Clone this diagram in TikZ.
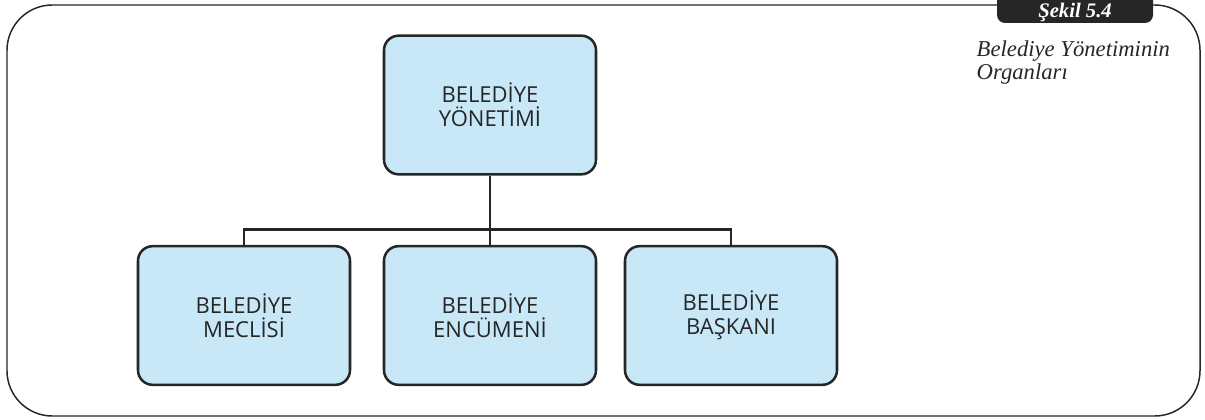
\documentclass[tikz,border=0pt]{standalone}
\usepackage{fontspec}
\setmainfont{Liberation Serif}
\setsansfont{Open Sans}
\definecolor{kutu_mavi}{HTML}{C8E8F8}
\definecolor{koyu}{HTML}{262626}
\begin{document}
\begin{tikzpicture}[
    x=0.75pt, y=-0.75pt,
    box_style/.style={draw=koyu, fill=kutu_mavi, line width=1.9pt, rounded corners=11pt,
        minimum width=159pt, minimum height=104pt, align=center, text=koyu,
        font=\sffamily\fontsize{16.5}{18}\selectfont},
    edge_style/.style={draw=koyu, line width=1.9pt},
    frame_style/.style={draw=koyu, line width=1.1pt, rounded corners=34pt},
    tab_style/.style={fill=koyu, rounded corners=6pt, minimum width=117pt, minimum height=24pt},
    tab_text/.style={text=white, inner sep=0pt, font=\bfseries\itshape\fontsize{15.5}{16}\selectfont}
]
\useasboundingbox (0,0) rectangle (1205,420);
% cerceve
\draw[frame_style] (997,5) -- (7,5) -- (7,416) -- (1200,416) -- (1200,5) -- (1153,5);
\node[tab_style] (sekil) at (1075,7) {};
\node[tab_text] (sekil_yazi) at (1075,12.5) {Şekil 5.4};
\node[anchor=north west, align=left, font=\itshape\fontsize{17}{17.5}\selectfont, text=koyu]
    (baslik) at (972,36) {Belediye Yönetiminin\\Organları};
% kutular
\node[box_style] (yonetim) at (490,105) {BELEDİYE\\YÖNETİMİ};
\node[box_style] (meclis) at (244,315.5) {BELEDİYE\\MECLİSİ};
\node[box_style] (encumen) at (490,315.5) {BELEDİYE\\ENCÜMENİ};
\node[box_style] (baskan) at (731,315.5) {BELEDİYE\\BAŞKANI};
% baglantilar
\draw[edge_style] (yonetim) -- (encumen);
\draw[edge_style] (meclis.north) -- ++(0,-15.5) -| (baskan.north);
\end{tikzpicture}
\end{document}
